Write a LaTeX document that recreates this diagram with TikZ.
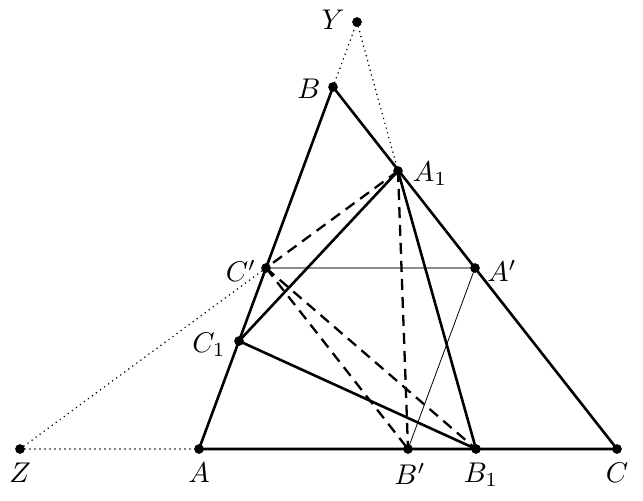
\documentclass[tikz,border=0pt]{standalone}
\begin{document}
\begin{tikzpicture}[x=1pt,y=-1pt,
  pt/.style={circle,fill=black,inner sep=0pt,minimum size=9pt},
  lab/.style={font=\normalsize,scale=2.85,inner sep=0pt,transform shape},
  thickline/.style={line width=2.6pt},
  dashline/.style={line width=2.3pt,dash pattern=on 11pt off 7pt},
  dotline/.style={line width=1.7pt,dash pattern=on 0pt off 5pt,line cap=round},
  grayline/.style={line width=1.4pt,black!45},
  thinline/.style={line width=0.8pt}]
\useasboundingbox (0,0) rectangle (643,501);
\node[pt] (A) at (199,449) {};
\node[pt] (B) at (333,87) {};
\node[pt] (C) at (617,449) {};
\node[pt] (Ap) at (475,268) {};
\node[pt] (Bp) at (408,449) {};
\node[pt] (Cp) at (266,268) {};
\node[pt] (A1) at (398,171) {};
\node[pt] (B1) at (476,449) {};
\node[pt] (C1) at (239,341) {};
\node[pt] (Z) at (20,449) {};
\node[pt] (Y) at (357,22) {};
% labels
\node[lab] (lY) at (333,20) {$Y$};
\node[lab] (lB) at (309,89) {$B$};
\node[lab] (lA1) at (430,174) {$A_1$};
\node[lab] (lCp) at (241,271) {$C'$};
\node[lab] (lAp) at (502,271) {$A'$};
\node[lab] (lC1) at (209,345) {$C_1$};
\node[lab] (lZ) at (20,473) {$Z$};
\node[lab] (lA) at (199,473) {$A$};
\node[lab] (lBp) at (410,474) {$B'$};
\node[lab] (lB1) at (481,475) {$B_1$};
\node[lab] (lC) at (617,473) {$C$};
% lines
\draw[grayline] (Cp.center) -- (Ap.center);
\draw[thinline] (Ap.center) -- (Bp.center);
\draw[dotline] (Z.center) -- (A.center);
\draw[dotline] (Z.center) -- (Cp.center);
\draw[dotline] (B.center) -- (Y.center);
\draw[dotline] (Y.center) -- (A1.center);
\draw[dashline] (A1.center) -- (Cp.center);
\draw[dashline] (Cp.center) -- (B1.center);
\draw[dashline] (Cp.center) -- (Bp.center);
\draw[dashline] (A1.center) -- (Bp.center);
\draw[thickline,line join=miter] (A.center) -- (B.center) -- (C.center) -- cycle;
\draw[thickline] (A1.center) -- (C1.center);
\draw[thickline] (C1.center) -- (B1.center);
\draw[thickline] (B1.center) -- (A1.center);
\foreach \p in {A,B,C,Ap,Bp,Cp,A1,B1,C1,Z,Y} \fill (\p) circle (4.8pt);
\end{tikzpicture}
\end{document}
